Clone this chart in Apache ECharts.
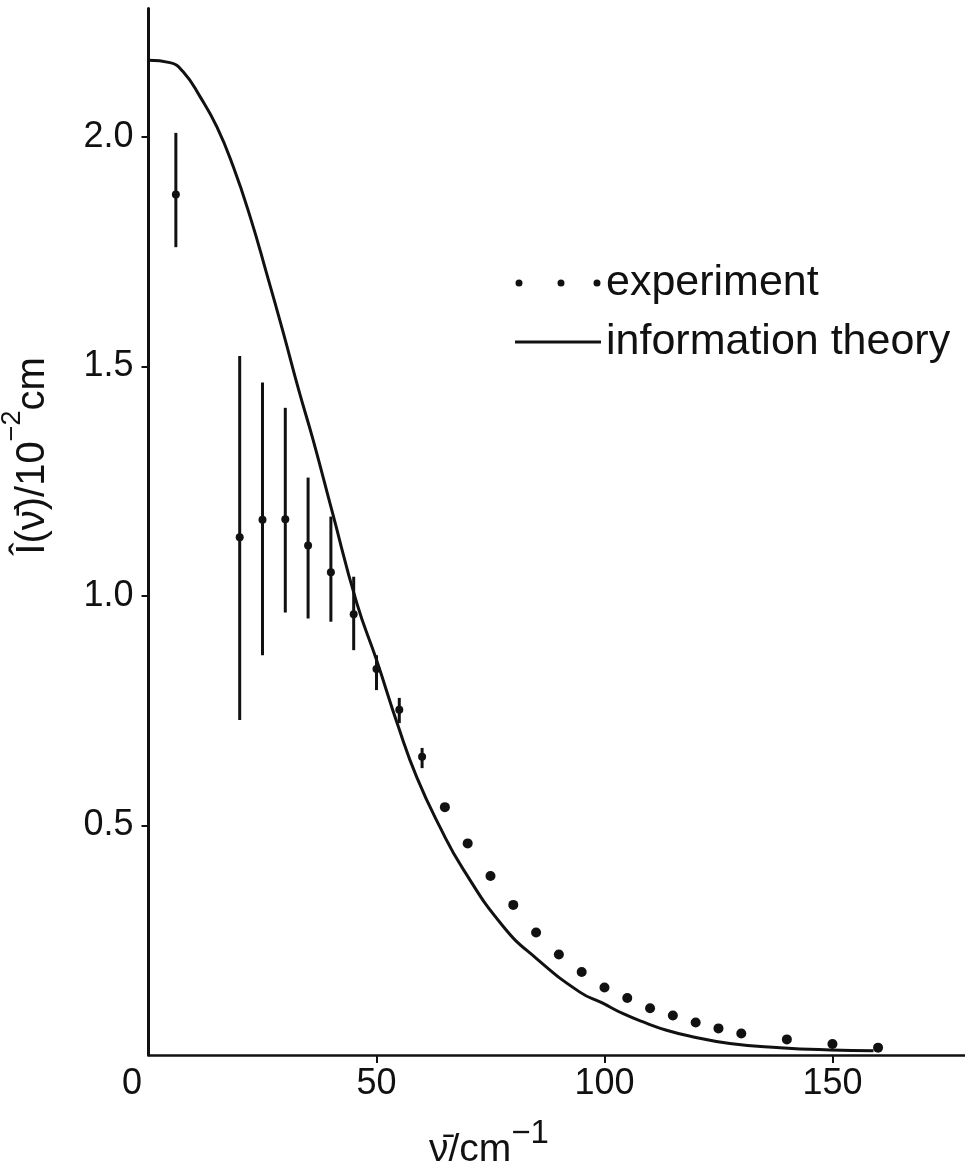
<!DOCTYPE html>
<html>
<head>
<meta charset="utf-8">
<script src="https://cdn.jsdelivr.net/npm/echarts@6/dist/echarts.min.js"></script>
<style>
html,body{margin:0;padding:0;background:#fff;}
#chart{width:965px;height:1168px;}
</style>
</head>
<body>
<div id="chart"></div>
<script>
// ---- data ----
const expX = [6, 20, 25, 30, 35, 40, 45, 50, 55, 60, 65, 70, 75, 80, 85, 90, 95, 100, 105, 110, 115, 120, 125, 130, 140, 150, 160];
const expY = [1.875, 1.128, 1.166, 1.167, 1.110, 1.052, 0.960, 0.841, 0.752, 0.650, 0.540, 0.461, 0.390, 0.327, 0.267, 0.219, 0.181, 0.147, 0.124, 0.102, 0.086, 0.071, 0.058, 0.047, 0.034, 0.024, 0.016];
const errX = [6, 20, 25, 30, 35, 40, 45, 50, 55, 60];
const errLow = [1.760, 0.730, 0.871, 0.964, 0.951, 0.944, 0.882, 0.795, 0.723, 0.625];
const errHigh = [2.009, 1.523, 1.465, 1.410, 1.258, 1.173, 1.042, 0.871, 0.778, 0.669];
const theoryX = [0, 4.7, 7.6, 11.3, 15, 18.6, 22.3, 25.9, 29.6, 33, 36.1, 40.2, 45.7, 50, 54.8, 58.8, 63.9, 69, 77.8, 85.1, 94.6, 99.4, 104.1, 109.3, 113.6, 118.8, 127.5, 138.5, 149.5, 159];
const theoryY = [2.167, 2.162, 2.142, 2.088, 2.022, 1.935, 1.826, 1.703, 1.572, 1.447, 1.340, 1.187, 0.984, 0.861, 0.715, 0.606, 0.497, 0.405, 0.280, 0.210, 0.137, 0.114, 0.090, 0.069, 0.054, 0.041, 0.025, 0.016, 0.011, 0.009];
const xTickValues = [0, 50, 100, 150];
const yTickValues = [0.5, 1.0, 1.5, 2.0];
const seriesNames = ['experiment', 'information theory'];
const xName = 'ν̄/cm';
const xNameSup = '−1';
const yName1 = 'Î(ν̄)/10';
const yNameSup = '−2';
const yName2 = 'cm';

const INK = '#111';
const FONT = '"Liberation Sans", Arial, Helvetica, sans-serif';

const chart = echarts.init(document.getElementById('chart'), null, {renderer: 'canvas'});

const expData = expX.map((x, i) => [x, expY[i]]);
const errData = errX.map((x, i) => [x, errLow[i], errHigh[i]]);
const theoryData = theoryX.map((x, i) => [x, theoryY[i]]);

const dotsIcon = 'path://M1.5,3.5a3.5,3.5 0 1,0 7,0a3.5,3.5 0 1,0 -7,0M43.5,3.5a3.5,3.5 0 1,0 7,0a3.5,3.5 0 1,0 -7,0M79.5,3.5a3.5,3.5 0 1,0 7,0a3.5,3.5 0 1,0 -7,0';
const lineIcon = 'path://M0,0H84V3H0Z';

chart.setOption({
  animation: false,
  backgroundColor: '#fff',
  grid: {left: 148.5, width: 816.2, top: 8.5, height: 1046.5, containLabel: false},
  legend: {
    orient: 'vertical',
    left: 510,
    top: 256,
    padding: 5,
    itemWidth: 86,
    itemHeight: 7,
    itemGap: 15,
    align: 'left',
    textStyle: {fontSize: 43, fontFamily: FONT, color: INK, lineHeight: 44},
    data: [
      {name: seriesNames[0], icon: dotsIcon},
      {name: seriesNames[1], icon: lineIcon}
    ]
  },
  xAxis: {
    type: 'value',
    min: 0,
    max: 179,
    interval: 50,
    axisLine: {show: true, lineStyle: {color: INK, width: 2.5}},
    axisTick: {show: true, customValues: [50, 100, 150], length: 8, lineStyle: {color: INK, width: 2}},
    axisLabel: {
      customValues: xTickValues,
      margin: 11,
      fontSize: 36,
      fontFamily: FONT,
      color: INK,
      formatter: v => v === 0 ? '{z|0}' : String(v),
      rich: {z: {fontSize: 36, fontFamily: FONT, color: INK, padding: [0, 33, 0, 0]}}
    },
    splitLine: {show: false}
  },
  yAxis: {
    type: 'value',
    min: 0,
    max: 2.28,
    interval: 0.5,
    axisLine: {show: true, lineStyle: {color: INK, width: 3}},
    axisTick: {show: true, customValues: yTickValues, length: 7, lineStyle: {color: INK, width: 2}},
    axisLabel: {
      customValues: yTickValues,
      margin: 15,
      fontSize: 36,
      fontFamily: FONT,
      color: INK,
      formatter: v => v.toFixed(1)
    },
    splitLine: {show: false}
  },
  graphic: [
    {
      type: 'text',
      x: 33,
      y: 456,
      rotation: Math.PI / 2,
      style: {
        text: '{a|' + yName1 + '}{s|' + yNameSup + '}{a|' + yName2 + '}',
        align: 'center',
        verticalAlign: 'middle',
        rich: {
          a: {fontSize: 40, fontFamily: FONT, fill: INK, lineHeight: 42},
          s: {fontSize: 27, fontFamily: FONT, fill: INK, lineHeight: 27, padding: [0, 0, 40, 0]}
        }
      }
    },
    {
      type: 'text',
      x: 489,
      y: 1150,
      style: {
        text: '{a|' + xName + '}{s|' + xNameSup + '}',
        align: 'center',
        verticalAlign: 'middle',
        rich: {
          a: {fontSize: 39, fontFamily: FONT, fill: INK, lineHeight: 40},
          s: {fontSize: 33, fontFamily: FONT, fill: INK, lineHeight: 33, padding: [0, 0, 32, 0]}
        }
      }
    }
  ],
  series: [
    {
      name: seriesNames[1],
      type: 'line',
      data: theoryData,
      smooth: 0.5,
      showSymbol: false,
      symbol: 'none',
      color: INK,
      itemStyle: {color: INK},
      lineStyle: {color: INK, width: 3},
      z: 2
    },
    {
      name: 'errorbars',
      type: 'custom',
      data: errData,
      renderItem: function (params, api) {
        const p1 = api.coord([api.value(0), api.value(1)]);
        const p2 = api.coord([api.value(0), api.value(2)]);
        return {
          type: 'line',
          shape: {x1: p1[0], y1: p1[1], x2: p2[0], y2: p2[1]},
          style: {stroke: INK, lineWidth: 3}
        };
      },
      encode: {x: 0, y: [1, 2]},
      z: 3
    },
    {
      name: seriesNames[0],
      type: 'scatter',
      data: expData,
      symbol: 'circle',
      symbolSize: v => (v[0] <= 60 ? 8 : 10),
      itemStyle: {color: INK, opacity: 1},
      z: 4
    }
  ]
});
</script>
</body>
</html>
